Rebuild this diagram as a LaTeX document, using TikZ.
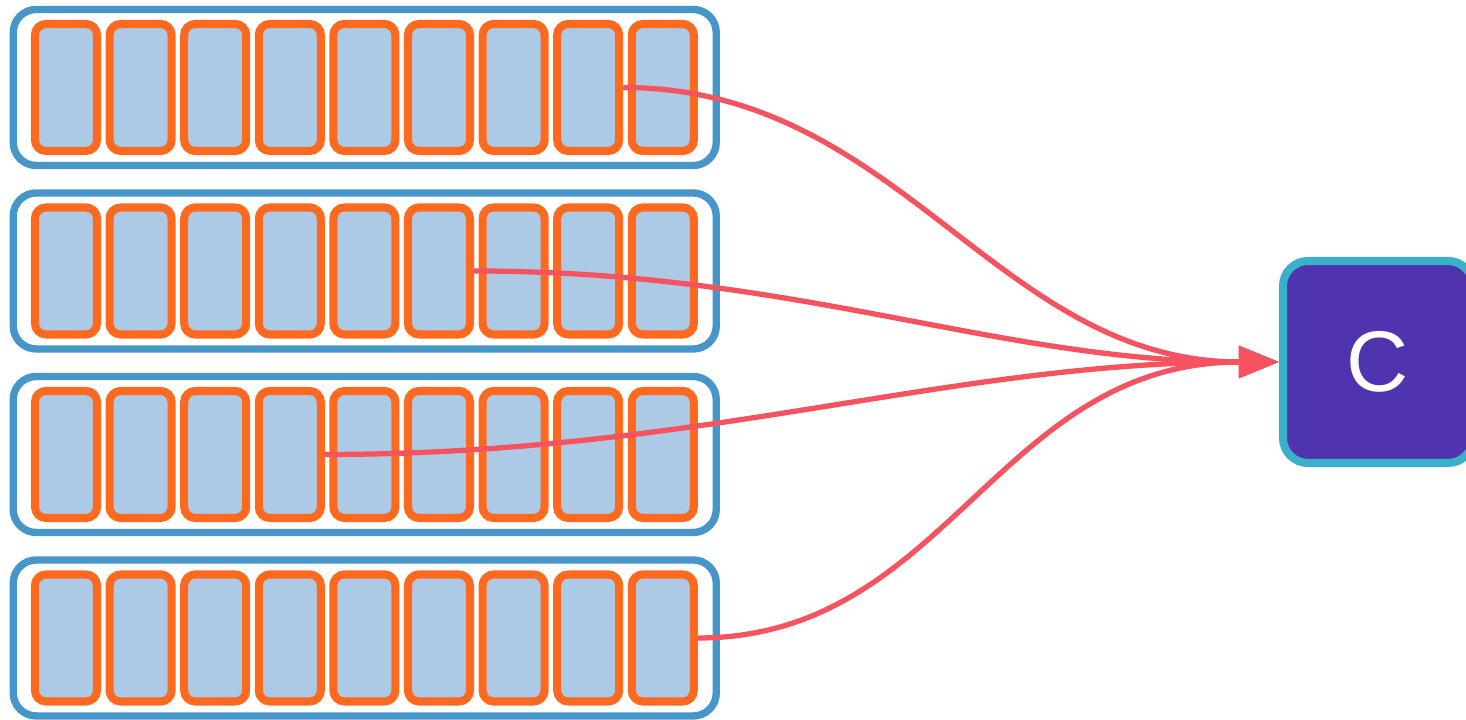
\documentclass[tikz,border=0pt]{standalone}
\usepackage{fontspec}
\setsansfont{Liberation Sans}
\usetikzlibrary{arrows.meta}
\definecolor{RING}{HTML}{4796CA}
\definecolor{SLOT}{HTML}{ACC9E6}
\definecolor{EDGE}{HTML}{FD6A1F}
\definecolor{LINK}{HTML}{F5535F}
\definecolor{SINK}{HTML}{5033AF}
\definecolor{RIM}{HTML}{3AB1C8}

\begin{document}
\begin{tikzpicture}[
  font=\sffamily,
  ring/.style={draw=RING, line width=2.1pt, rounded corners=0.23cm, minimum width=7.03cm, minimum height=1.56cm, inner sep=0pt},
  slot/.style={fill=SLOT, draw=EDGE, line width=2.3pt, rounded corners=0.11cm, minimum width=0.62cm, minimum height=1.27cm, inner sep=0pt},
  sink/.style={fill=SINK, draw=RIM, line width=2.3pt, rounded corners=0.25cm, minimum width=1.9cm, minimum height=2.02cm, text=white, font=\sffamily\fontsize{24.5}{29}\selectfont},
  link/.style={draw=LINK, line width=1.5pt, -{Triangle[length=0.4cm,width=0.31cm]}},
]

\useasboundingbox (0,0) rectangle (14.66,7.2);

% four buffers, nine slots each
\foreach \r/\y in {1/6.325, 2/4.49, 3/2.655, 4/0.82} {
  \node[ring] (ring\r) at (3.6475, \y) {};
  \foreach \k in {1,...,9} {
    \node[slot] (s\r-\k) at ({0.66+(\k-1)*0.746}, \y) {};
  }
}

\node[sink] (C) at (13.78, 3.58) {C};

% one slot from each buffer feeds C
\draw[link] (s1-8.east) .. controls +(2.77,0) and +(-2.82,0) .. (C.west);
\draw[link] (s2-6.east) .. controls +(3.25,0) and +(-2.82,0) .. (C.west);
\draw[link] (s3-4.east) .. controls +(3.77,0) and +(-3.32,0) .. (C.west);
\draw[link] (s4-9.east) .. controls +(2.5,0) and +(-2.82,0) .. (C.west);

\end{tikzpicture}
\end{document}
